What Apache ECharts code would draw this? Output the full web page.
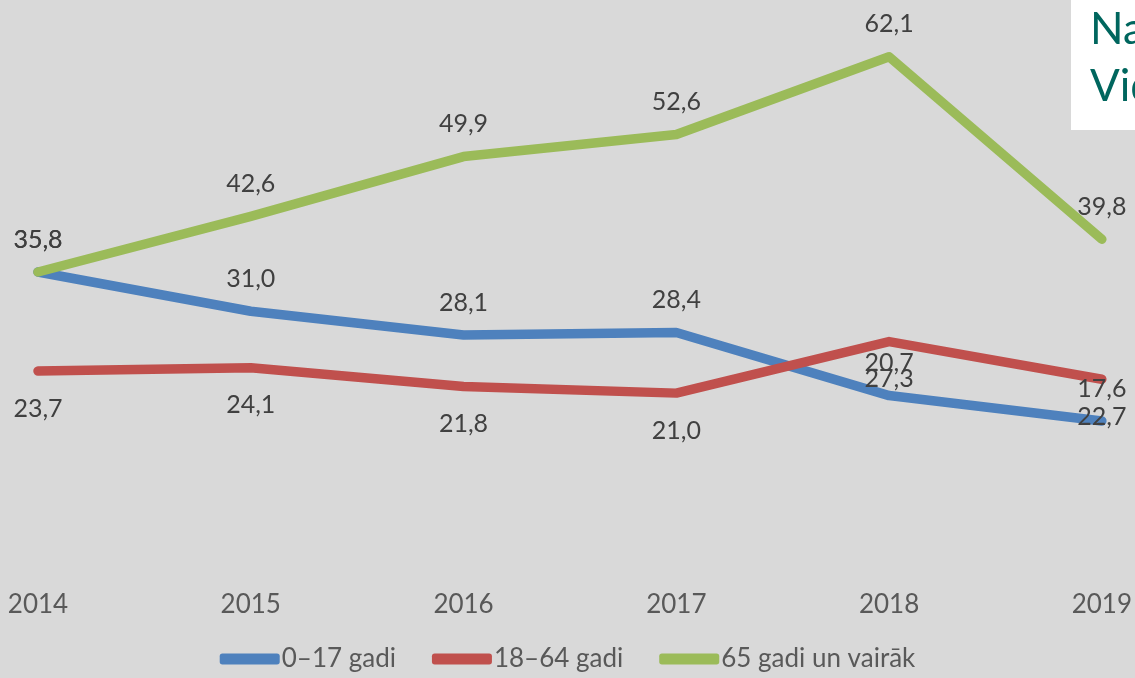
<!DOCTYPE html>
<html>
<head>
<meta charset="utf-8">
<script src="https://cdn.jsdelivr.net/npm/echarts@6/dist/echarts.min.js"></script>
<style>
html,body{margin:0;padding:0;background:#d9d9d9;}
#c{width:1135px;height:678px;}
</style>
</head>
<body>
<div id="c"></div>
<script>
var years = ['2014','2015','2016','2017','2018','2019'];
var names = ['0\u201317 gadi','18\u201364 gadi','65 gadi un vair\u0101k'];
var kids = [35.8, 31.0, 28.1, 28.4, 20.7, 17.6];
var adults = [23.7, 24.1, 21.8, 21.0, 27.3, 22.7];
var seniors = [35.8, 42.6, 49.9, 52.6, 62.1, 39.8];

var FONT = 'Lato, "Open Sans", sans-serif';
function fmt(p){ return p.value.toFixed(1).replace('.', ','); }
function mk(name, data, color, pos, dist){
  return {
    name: name, type: 'line', data: data,
    symbol: 'circle', symbolSize: 0, showSymbol: true,
    lineStyle: {color: color, width: 9.5, cap: 'round', join: 'round'},
    itemStyle: {color: color},
    label: {show: true, position: pos, distance: dist, formatter: fmt,
            color: '#404040', fontSize: 25, fontFamily: FONT},
    emphasis: {disabled: true}
  };
}
var chart = echarts.init(document.getElementById('c'));
chart.setOption({
  backgroundColor: '#d9d9d9',
  animation: false,
  grid: {left: 38, right: 33, top: 33, bottom: 113},
  xAxis: {
    type: 'category', data: years, boundaryGap: false,
    axisLine: {show: false}, axisTick: {show: false},
    axisLabel: {color: '#595959', fontSize: 26, fontFamily: FONT, margin: 27}
  },
  yAxis: {type: 'value', min: 0, max: 65, show: false, splitLine: {show: false}},
  legend: {
    bottom: 1, left: 'center', itemGap: 36, itemWidth: 60, itemHeight: 11,
    icon: 'roundRect',
    textStyle: {color: '#595959', fontSize: 26, fontFamily: FONT, padding: [0,0,0,-3]},
    data: names
  },
  graphic: [
    {type: 'rect', left: 1071, top: 0, shape: {width: 80, height: 130}, style: {fill: '#ffffff'}, z: 10},
    {type: 'text', left: 1090, top: 8, style: {text: 'Nabadz\u012bbas', fill: '#00665e', font: '44px ' + FONT}, z: 11},
    {type: 'text', left: 1090, top: 65, style: {text: 'Vid\u0113j\u0101', fill: '#00665e', font: '44px ' + FONT}, z: 11}
  ],
  series: [
    mk(names[0], kids, '#4e81bd', 'top', 20),
    mk(names[1], adults, '#c0504d', 'bottom', 25),
    mk(names[2], seniors, '#9bbb59', 'top', 20)
  ]
});
</script>
</body>
</html>
